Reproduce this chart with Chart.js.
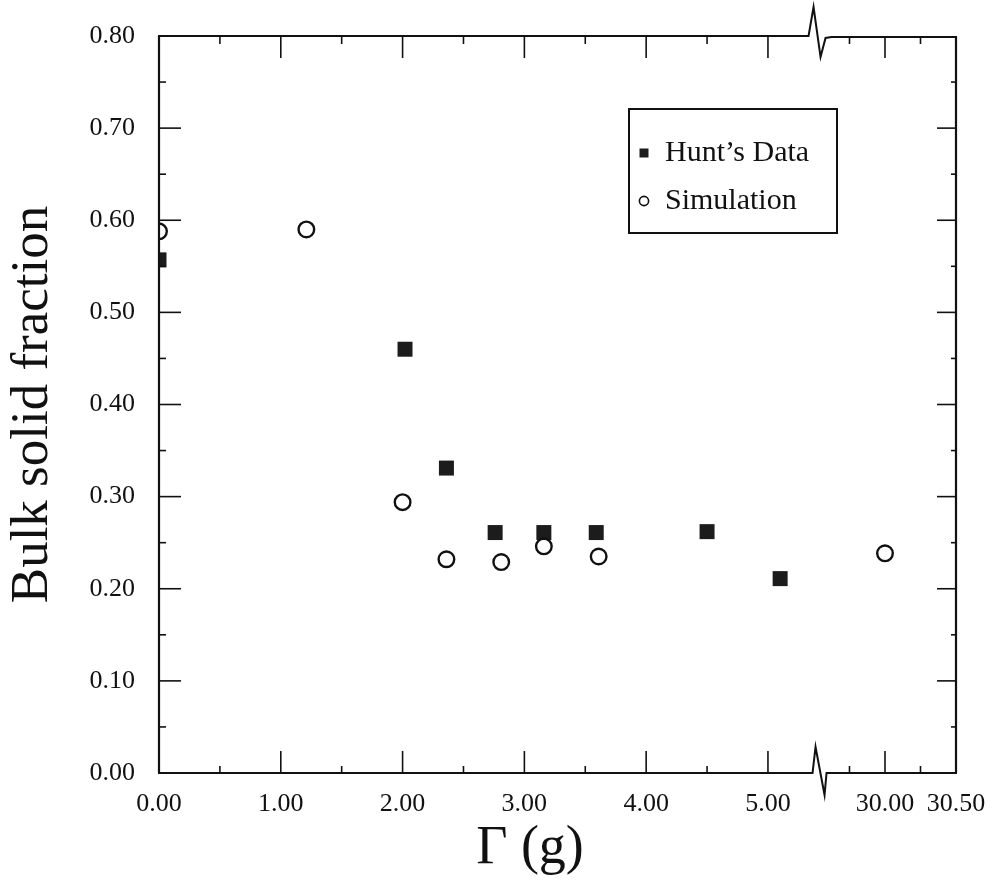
<!DOCTYPE html>
<html><head><meta charset="utf-8">
<script src="https://cdn.jsdelivr.net/npm/chart.js@4.4.0/dist/chart.umd.min.js"></script>
<style>html,body{margin:0;padding:0;background:#fff}canvas{display:block}</style>
</head><body>
<canvas id="c" width="997" height="880"></canvas>
<script>
// ---- data ----
const seriesNames = ["Hunt\u2019s Data", "Simulation"];
const huntX = [0.00, 2.02, 2.36, 2.76, 3.16, 3.59, 4.50, 5.10];
const huntY = [0.557, 0.460, 0.331, 0.261, 0.261, 0.261, 0.262, 0.211];
const simX  = [0.00, 1.21, 2.00, 2.36, 2.81, 3.16, 3.61, 30.00];
const simY  = [0.588, 0.590, 0.294, 0.232, 0.229, 0.246, 0.235, 0.2385];

const xTickValues = [0, 1, 2, 3, 4, 5, 30, 30.5];
const xTickLabels = ["0.00", "1.00", "2.00", "3.00", "4.00", "5.00", "30.00", "30.50"];
const xMinorValues = [0.5, 1.5, 2.5, 3.5, 4.5, 29.75, 30.25];
const yTickValues = [0, 0.1, 0.2, 0.3, 0.4, 0.5, 0.6, 0.7, 0.8];
const yTickLabels = ["0.00", "0.10", "0.20", "0.30", "0.40", "0.50", "0.60", "0.70", "0.80"];
const yMinorValues = [0.05, 0.15, 0.25, 0.35, 0.45, 0.55, 0.65, 0.75];
const xTitle = "\u0393 (g)";
const yTitle = "Bulk solid fraction";

// ---- broken x axis: map real values to axis units ----
const SEG2_START = 5.961, SEG2_SCALE = 1.166, BREAK_AT = 5.44;
function toAxis(x) { return x < 20 ? x : SEG2_START + (x - 30) * SEG2_SCALE; }

const INK = "#111";
const frameTicks = {
  id: "frameTicks",
  afterDatasetsDraw(chart) {
    const ctx = chart.ctx, a = chart.chartArea;
    const xs = chart.scales.x, ys = chart.scales.y;
    const L = a.left, R = a.right, T = a.top, B = a.bottom;
    const xb = xs.getPixelForValue(BREAK_AT);
    ctx.save();
    ctx.strokeStyle = INK; ctx.lineCap = "butt"; ctx.lineJoin = "miter";
    // frame
    ctx.lineWidth = 2.2;
    ctx.beginPath(); ctx.moveTo(L, T); ctx.lineTo(L, B); ctx.stroke();
    ctx.beginPath(); ctx.moveTo(R, T); ctx.lineTo(R, B); ctx.stroke();
    ctx.lineWidth = 2;
    // top with break
    ctx.beginPath(); ctx.moveTo(L - 1, T); ctx.lineTo(xb - 13, T);
    ctx.lineTo(xb - 8, T - 29); ctx.lineTo(xb - 1, T + 21); ctx.lineTo(xb + 4, T + 2);
    ctx.lineTo(xb + 10, T + 1); ctx.lineTo(R + 1, T + 1); ctx.stroke();
    // bottom with break
    ctx.beginPath(); ctx.moveTo(L - 1, B); ctx.lineTo(xb - 9, B);
    ctx.lineTo(xb - 6, B - 26); ctx.lineTo(xb + 3, B + 22); ctx.lineTo(xb + 5, B);
    ctx.lineTo(R + 1, B); ctx.stroke();
    // ticks
    ctx.lineWidth = 1.6;
    const line = (x1, y1, x2, y2) => { ctx.beginPath(); ctx.moveTo(x1, y1); ctx.lineTo(x2, y2); ctx.stroke(); };
    xTickValues.forEach(v => {
      const p = xs.getPixelForValue(toAxis(v));
      if (p <= L + 1 || p >= R - 1) return;
      line(p, B, p, B - 22); line(p, T, p, T + 22);
    });
    xMinorValues.forEach(v => {
      const p = xs.getPixelForValue(toAxis(v));
      line(p, B, p, B - 7); line(p, T, p, T + 8);
    });
    yTickValues.forEach(v => {
      const p = ys.getPixelForValue(v);
      if (p <= T + 1 || p >= B - 1) return;
      line(L, p, L + 22, p); line(R, p, R - 19, p);
    });
    yMinorValues.forEach(v => {
      const p = ys.getPixelForValue(v);
      line(L, p, L + 7, p); line(R, p, R - 5, p);
    });
    // legend
    ctx.lineWidth = 2;
    ctx.strokeRect(629, 109, 208, 124);
    ctx.fillStyle = "#1c1c1c";
    ctx.fillRect(639.5, 148.5, 9, 9);
    ctx.lineWidth = 1.6;
    ctx.beginPath(); ctx.arc(644, 201, 4.6, 0, Math.PI * 2); ctx.stroke();
    ctx.fillStyle = INK;
    ctx.font = "30px 'Liberation Serif'";
    ctx.textAlign = "left"; ctx.textBaseline = "alphabetic";
    ctx.fillText(seriesNames[0], 665, 161);
    ctx.fillText(seriesNames[1], 665, 209);
    // x title
    ctx.font = "54px 'Liberation Serif'";
    ctx.textAlign = "center";
    ctx.fillText(xTitle, 530, 863);
    ctx.restore();
  }
};

new Chart(document.getElementById("c"), {
  type: "scatter",
  data: {
    datasets: [
      {
        label: seriesNames[1],
        data: simX.map((x, i) => ({ x: toAxis(x), y: simY[i] })),
        pointStyle: "circle", pointRadius: 7.8, pointHoverRadius: 7.8,
        borderWidth: 2.4, borderColor: INK, backgroundColor: "rgba(255,255,255,0)",
        clip: 0
      },
      {
        label: seriesNames[0],
        data: huntX.map((x, i) => ({ x: toAxis(x), y: huntY[i] })),
        pointStyle: "rect", pointRadius: 10.6, pointHoverRadius: 10.6,
        borderWidth: 0, borderColor: "#1c1c1c", backgroundColor: "#1c1c1c",
        clip: 0
      }
    ]
  },
  options: {
    responsive: false, animation: false, devicePixelRatio: 1,
    layout: { padding: { top: 36, right: 41, left: 0, bottom: 0 } },
    plugins: { legend: { display: false }, tooltip: { enabled: false } },
    scales: {
      x: {
        type: "linear", min: 0, max: toAxis(30.5),
        grid: { display: false, drawTicks: false }, border: { display: false },
        afterBuildTicks: s => { s.ticks = xTickValues.map(v => ({ value: toAxis(v) })); },
        afterFit: s => { s.height = 107; s.paddingLeft = 0; s.paddingRight = 0; },
        ticks: {
          autoSkip: false, maxRotation: 0, minRotation: 0, padding: 16, color: INK,
          font: { family: "'Liberation Serif'", size: 26 },
          callback: (v, i) => xTickLabels[i]
        }
      },
      y: {
        type: "linear", min: 0, max: 0.8,
        grid: { display: false, drawTicks: false }, border: { display: false },
        afterBuildTicks: s => { s.ticks = yTickValues.map(v => ({ value: v })); },
        afterFit: s => { s.width = 159; s.paddingTop = 0; s.paddingBottom = 0; },
        ticks: {
          autoSkip: false, padding: 24, color: INK,
          font: { family: "'Liberation Serif'", size: 26 },
          callback: (v, i) => yTickLabels[i]
        },
        title: {
          display: true, text: yTitle, color: INK,
          font: { family: "'Liberation Serif'", size: 53 },
          padding: { top: 1, bottom: 0 }
        }
      }
    }
  },
  plugins: [frameTicks]
});
</script>
</body></html>
